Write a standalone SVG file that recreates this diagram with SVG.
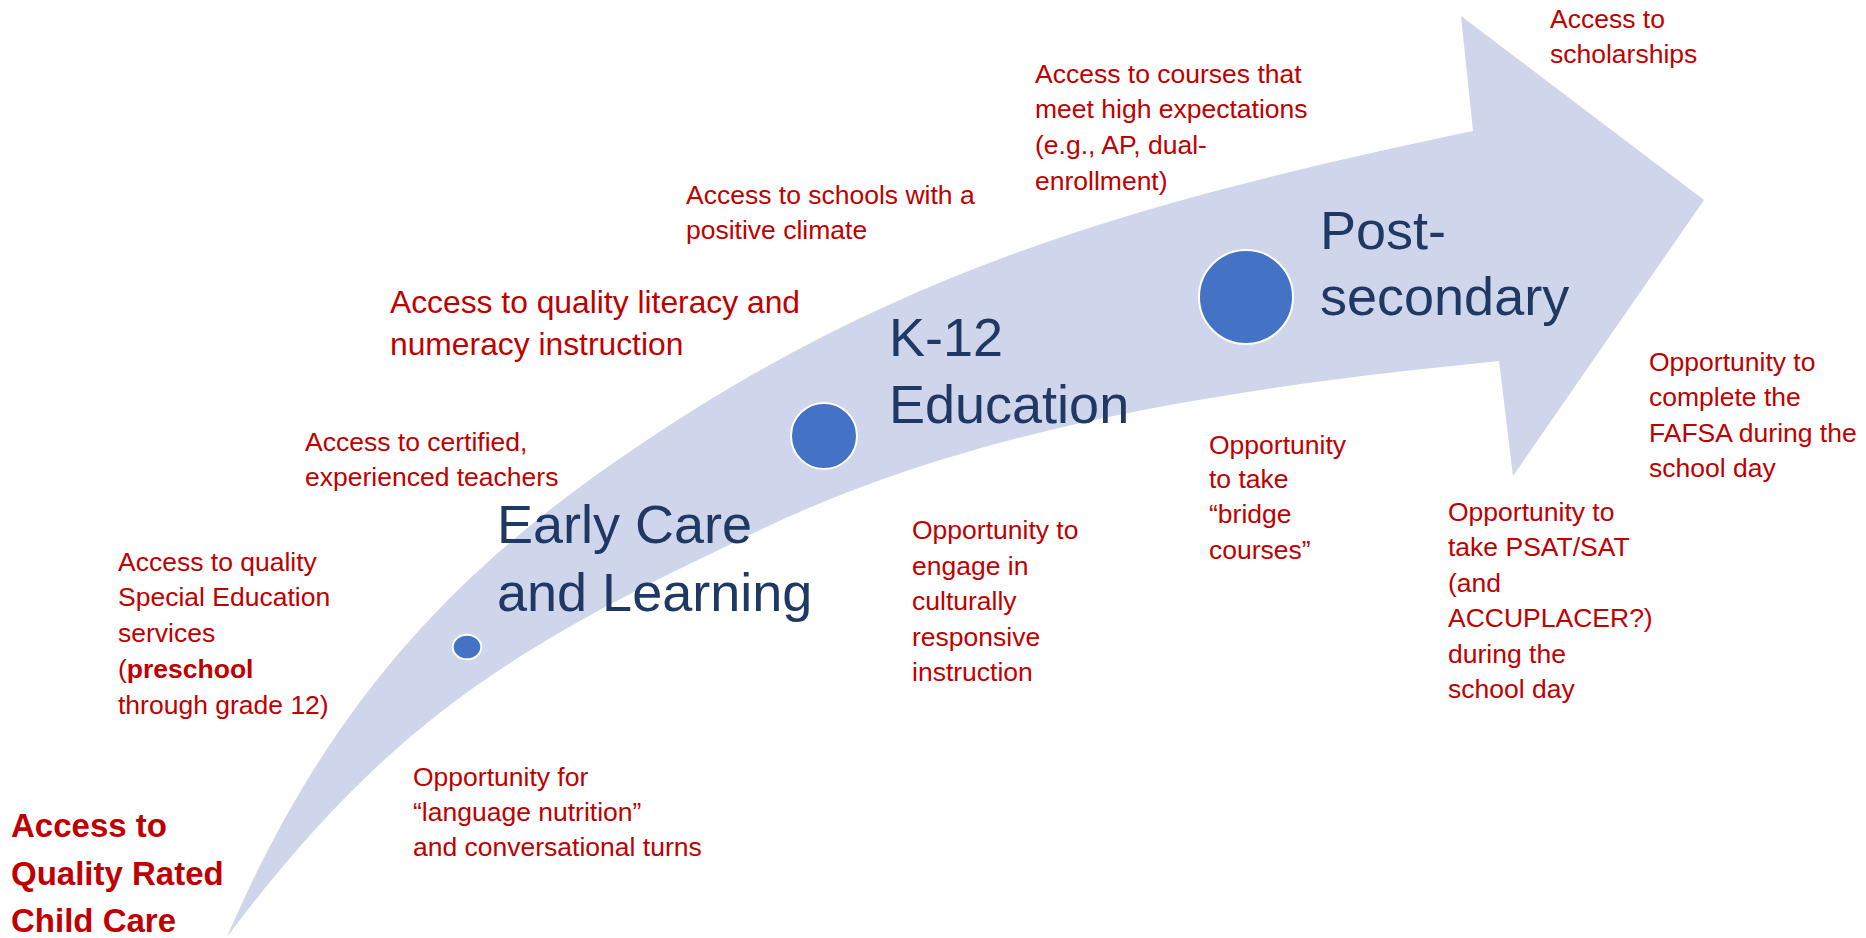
<svg xmlns="http://www.w3.org/2000/svg" width="1866" height="938" viewBox="0 0 1866 938">
<style>
  .bg { fill: #FFFFFF; }
  .band { fill: #CFD5EA; stroke: none; }
  .dot { fill: #4472C4; stroke: #FFFFFF; stroke-width: 2; }
  .stage { font-family: "Liberation Sans", Arial, sans-serif; font-size: 54px; fill: #1F3864; }
  .note { font-family: "Liberation Sans", Arial, sans-serif; font-size: 26.5px; fill: #C00000; }
  .note-lg { font-family: "Liberation Sans", Arial, sans-serif; font-size: 31.8px; fill: #C00000; }
  .note-bold { font-family: "Liberation Sans", Arial, sans-serif; font-size: 33px; font-weight: bold; fill: #C00000; }
  .b { font-weight: bold; }
</style>
<rect class="bg" x="0" y="0" width="1866" height="938"/>

<g id="connectors">
  <path id="arrow" class="band" d="M227,937 C337,680 481,551 647,440 C913,262 1160,197 1473,131 L1461,16 L1704,200 L1513,476 L1499,361 C1250,386 985,422 760,530 C525,642 395,713 227,937 Z"/>
</g>

<g id="stage-early">
  <ellipse class="dot" cx="467" cy="647" rx="14.3" ry="12.3"/>
  <text class="stage" x="497" y="543">Early Care</text>
  <text class="stage" x="497" y="611">and Learning</text>
</g>

<g id="stage-k12">
  <circle class="dot" cx="824" cy="436" r="33"/>
  <text class="stage" x="889" y="356">K-12</text>
  <text class="stage" x="889" y="423">Education</text>
</g>

<g id="stage-post">
  <circle class="dot" cx="1246" cy="297" r="47"/>
  <text class="stage" x="1320" y="249">Post-</text>
  <text class="stage" x="1320" y="315">secondary</text>
</g>

<g id="label-child-care">
  <text class="note-bold" x="11" y="837">Access to</text>
  <text class="note-bold" x="11" y="885">Quality Rated</text>
  <text class="note-bold" x="11" y="932">Child Care</text>
</g>

<g id="label-special-ed">
  <text class="note" x="118" y="571">Access to quality</text>
  <text class="note" x="118" y="606">Special Education</text>
  <text class="note" x="118" y="642">services</text>
  <text class="note" x="118" y="678">(<tspan class="b">preschool</tspan></text>
  <text class="note" x="118" y="714">through grade 12)</text>
</g>

<g id="label-language">
  <text class="note" x="413" y="786">Opportunity for</text>
  <text class="note" x="413" y="821">“language nutrition”</text>
  <text class="note" x="413" y="856">and conversational turns</text>
</g>

<g id="label-teachers">
  <text class="note" x="305" y="451">Access to certified,</text>
  <text class="note" x="305" y="486">experienced teachers</text>
</g>

<g id="label-literacy">
  <text class="note-lg" x="390" y="313">Access to quality literacy and</text>
  <text class="note-lg" x="390" y="355">numeracy instruction</text>
</g>

<g id="label-climate">
  <text class="note" x="686" y="204">Access to schools with a</text>
  <text class="note" x="686" y="239">positive climate</text>
</g>

<g id="label-courses">
  <text class="note" x="1035" y="83">Access to courses that</text>
  <text class="note" x="1035" y="118">meet high expectations</text>
  <text class="note" x="1035" y="154">(e.g., AP, dual-</text>
  <text class="note" x="1035" y="190">enrollment)</text>
</g>

<g id="label-culture">
  <text class="note" x="912" y="539">Opportunity to</text>
  <text class="note" x="912" y="575">engage in</text>
  <text class="note" x="912" y="610">culturally</text>
  <text class="note" x="912" y="646">responsive</text>
  <text class="note" x="912" y="681">instruction</text>
</g>

<g id="label-bridge">
  <text class="note" x="1209" y="454">Opportunity</text>
  <text class="note" x="1209" y="488">to take</text>
  <text class="note" x="1209" y="523">“bridge</text>
  <text class="note" x="1209" y="559">courses”</text>
</g>

<g id="label-psat">
  <text class="note" x="1448" y="521">Opportunity to</text>
  <text class="note" x="1448" y="556">take PSAT/SAT</text>
  <text class="note" x="1448" y="592">(and</text>
  <text class="note" x="1448" y="627">ACCUPLACER?)</text>
  <text class="note" x="1448" y="663">during the</text>
  <text class="note" x="1448" y="698">school day</text>
</g>

<g id="label-scholarships">
  <text class="note" x="1550" y="28">Access to</text>
  <text class="note" x="1550" y="63">scholarships</text>
</g>

<g id="label-fafsa">
  <text class="note" x="1649" y="371">Opportunity to</text>
  <text class="note" x="1649" y="406">complete the</text>
  <text class="note" x="1649" y="442">FAFSA during the</text>
  <text class="note" x="1649" y="477">school day</text>
</g>
</svg>
